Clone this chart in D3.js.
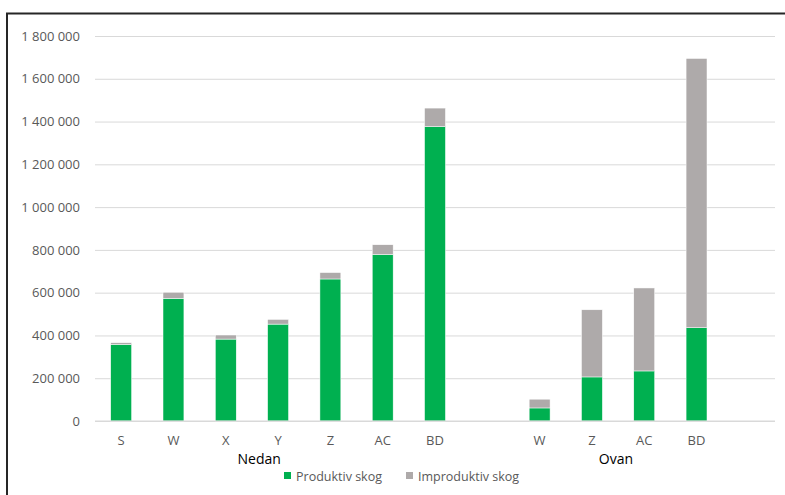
<!DOCTYPE html>
<html>
<head>
<meta charset="utf-8">
<script src="https://cdn.jsdelivr.net/npm/d3@7"></script>
<style>
  body { margin: 0; background: #fff; }
  svg { display: block; font-family: "Open Sans", sans-serif; }
</style>
</head>
<body>
<svg id="chart" width="785" height="495"></svg>
<script>
// data
const groups = ["Nedan", "Ovan"];
const nedanCats = ["S", "W", "X", "Y", "Z", "AC", "BD"];
const ovanCats = ["W", "Z", "AC", "BD"];
const nedanProduktiv = [358000, 573000, 383000, 453000, 664000, 778000, 1376000];
const nedanImproduktiv = [8000, 29000, 19000, 22000, 30000, 46000, 87000];
const ovanProduktiv = [61000, 206000, 234000, 436000];
const ovanImproduktiv = [41000, 314000, 388000, 1259000];
const seriesNames = ["Produktiv skog", "Improduktiv skog"];
const yTicks = [0, 200000, 400000, 600000, 800000, 1000000, 1200000, 1400000, 1600000, 1800000];

const colors = {"Produktiv skog": "#00b050", "Improduktiv skog": "#aeaaaa"};

// build slots (each group is followed by one empty slot, like the excel chart)
const slots = [];
nedanCats.forEach((c, i) => slots.push({key: "Nedan|" + c, group: "Nedan", label: c,
    "Produktiv skog": nedanProduktiv[i], "Improduktiv skog": nedanImproduktiv[i]}));
slots.push({key: "Nedan|blank", group: "Nedan", label: "", "Produktiv skog": 0, "Improduktiv skog": 0});
ovanCats.forEach((c, i) => slots.push({key: "Ovan|" + c, group: "Ovan", label: c,
    "Produktiv skog": ovanProduktiv[i], "Improduktiv skog": ovanImproduktiv[i]}));
slots.push({key: "Ovan|blank", group: "Ovan", label: "", "Produktiv skog": 0, "Improduktiv skog": 0});

const svg = d3.select("#chart");
const margin = {left: 95, right: 10, top: 36, bottom: 74};
const W = 785, H = 495;

const x = d3.scaleBand()
    .domain(slots.map(d => d.key))
    .range([margin.left, W - margin.right])
    .paddingInner(0.6).paddingOuter(0.3);

const y = d3.scaleLinear()
    .domain([0, 1800000])
    .range([H - margin.bottom, margin.top]);

const fmt = d3.formatLocale({decimal: ",", thousands: " ", grouping: [3], currency: ["", " kr"]}).format(",d");

// frame (only top and left edges are visible in the crop)
svg.append("line").attr("x1", 6).attr("x2", W).attr("y1", 13.5).attr("y2", 13.5)
    .attr("stroke", "#262626").attr("stroke-width", 2);
svg.append("line").attr("x1", 7).attr("x2", 7).attr("y1", 13).attr("y2", H)
    .attr("stroke", "#262626").attr("stroke-width", 2);

// grid + y axis
const yAxis = svg.append("g")
    .attr("transform", `translate(${margin.left},0)`)
    .call(d3.axisLeft(y).tickValues(yTicks).tickFormat(fmt)
        .tickSize(-(W - margin.right - margin.left)).tickPadding(15));
yAxis.select(".domain").remove();
yAxis.selectAll(".tick line").attr("stroke", "#d9d9d9").attr("stroke-width", 1);
yAxis.selectAll(".tick text").attr("fill", "#595959").attr("font-size", 13)
    .attr("font-family", "Open Sans, sans-serif");

// stacked bars
const stack = d3.stack().keys(seriesNames);
const layers = stack(slots);

svg.append("g").selectAll("g")
  .data(layers)
  .join("g")
    .attr("fill", d => colors[d.key])
  .selectAll("rect")
  .data(d => d.filter(p => p[1] > p[0]))
  .join("rect")
    .attr("x", d => x(d.data.key))
    .attr("width", x.bandwidth())
    .attr("y", d => y(d[1]))
    .attr("height", d => y(d[0]) - y(d[1]))
    .attr("stroke", "#ffffff")
    .attr("stroke-width", 0.5);

// x axis baseline
svg.append("line")
    .attr("x1", margin.left).attr("x2", W - margin.right)
    .attr("y1", y(0)).attr("y2", y(0))
    .attr("stroke", "#d9d9d9");

// category labels
svg.append("g").selectAll("text")
  .data(slots.filter(d => d.label))
  .join("text")
    .attr("x", d => x(d.key) + x.bandwidth() / 2)
    .attr("y", y(0) + 24)
    .attr("text-anchor", "middle")
    .attr("font-size", 13)
    .attr("fill", "#595959")
    .text(d => d.label);

// group labels
const step = x.step();
const x0 = x.range()[0];
const groupCenter = {Nedan: 3.14, Ovan: 9.96};
svg.append("g").selectAll("text")
  .data(groups)
  .join("text")
    .attr("x", g => x0 + groupCenter[g] * step)
    .attr("y", y(0) + 43)
    .attr("text-anchor", "middle")
    .attr("font-size", 14)
    .attr("fill", "#000")
    .text(g => g);

// legend
const legend = svg.append("g").attr("transform", "translate(284,476)");
const lx = [0, 122];
seriesNames.forEach((s, i) => {
    const item = legend.append("g").attr("transform", `translate(${lx[i]},0)`);
    item.append("rect").attr("x", 0).attr("y", -4).attr("width", 7).attr("height", 7)
        .attr("fill", colors[s]);
    item.append("text").attr("x", 12).attr("y", 4.5)
        .attr("font-size", 12.5).attr("fill", "#595959").text(s);
});
</script>
</body>
</html>
